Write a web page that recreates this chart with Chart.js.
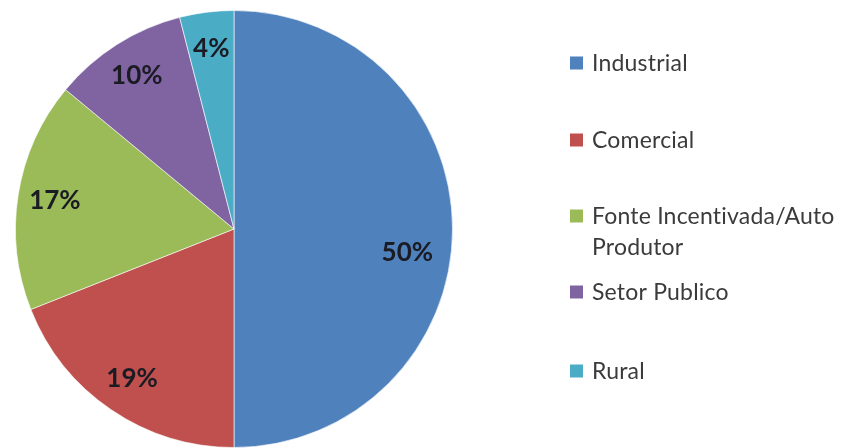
<!DOCTYPE html>
<html>
<head>
<meta charset="utf-8">
<script src="https://cdn.jsdelivr.net/npm/chart.js@4.4.1/dist/chart.umd.min.js"></script>
<style>
  html,body{margin:0;padding:0;background:#fff;}
  #wrap{position:relative;width:844px;height:448px;}
</style>
</head>
<body>
<div id="wrap"><canvas id="pie" width="844" height="448"></canvas></div>
<script>
const categories = ['Industrial', 'Comercial', 'Fonte Incentivada/Auto Produtor', 'Setor Publico', 'Rural'];
const shares     = [50, 19, 17, 10, 4];
const colors     = ['#4f81bd', '#c0504d', '#9bbb59', '#8064a2', '#4bacc6'];

// percent labels inside the slices
const sliceLabels = {
  id: 'sliceLabels',
  afterDatasetsDraw(chart, args, opts) {
    const ctx = chart.ctx;
    const meta = chart.getDatasetMeta(0);
    const total = shares.reduce((a, b) => a + b, 0);
    ctx.save();
    ctx.font = "bold 26px Lato";
    ctx.fillStyle = '#1b1b24';
    ctx.textAlign = 'center';
    ctx.textBaseline = 'middle';
    meta.data.forEach((arc, i) => {
      const p = arc.getProps(['x', 'y', 'startAngle', 'endAngle', 'outerRadius']);
      const mid = (p.startAngle + p.endAngle) / 2;
      const r = p.outerRadius * opts.radius;
      const nudge = (opts.nudge && opts.nudge[i]) || [0, 0];
      const pct = Math.round(shares[i] / total * 100) + '%';
      ctx.fillText(pct, p.x + Math.cos(mid) * r + nudge[0], p.y + Math.sin(mid) * r + nudge[1]);
    });
    ctx.restore();
  }
};

// legend on the right, one row per category, long names wrap
const sideLegend = {
  id: 'sideLegend',
  afterDraw(chart, args, opts) {
    const ctx = chart.ctx;
    ctx.save();
    ctx.font = "23px Lato";
    if ('letterSpacing' in ctx) ctx.letterSpacing = '0.2px'; // keeps "ti" from joining
    ctx.textBaseline = 'alphabetic';
    categories.forEach((name, i) => {
      const cy = opts.rows[i];
      ctx.fillStyle = colors[i];
      ctx.fillRect(opts.x, cy - 6.5, 13, 13);
      ctx.fillStyle = '#3b3b3b';
      // simple word wrap
      const words = name.split(' ');
      const lines = [];
      let line = '';
      words.forEach(w => {
        const t = line ? line + ' ' + w : w;
        if (ctx.measureText(t).width > opts.maxWidth && line) { lines.push(line); line = w; }
        else line = t;
      });
      lines.push(line);
      lines.forEach((l, k) => ctx.fillText(l, opts.x + 22, cy + 8 + k * 31));
    });
    ctx.restore();
  }
};

new Chart(document.getElementById('pie'), {
  type: 'pie',
  data: {
    labels: categories,
    datasets: [{
      data: shares,
      backgroundColor: colors,
      borderColor: 'rgba(255,255,255,0.6)',
      borderWidth: 1
    }]
  },
  options: {
    responsive: false,
    animation: false,
    layout: { padding: { left: 15, top: 10, right: 391, bottom: 0 } },
    plugins: {
      legend: { display: false },
      tooltip: { enabled: false },
      sliceLabels: { radius: 0.83, nudge: [[-8, 24], [0, 0], [0, 0], [0, 0], [0, 0]] },
      sideLegend: { x: 570, rows: [63, 140, 216, 292, 371], maxWidth: 255 }
    }
  },
  plugins: [sliceLabels, sideLegend]
});
</script>
</body>
</html>
